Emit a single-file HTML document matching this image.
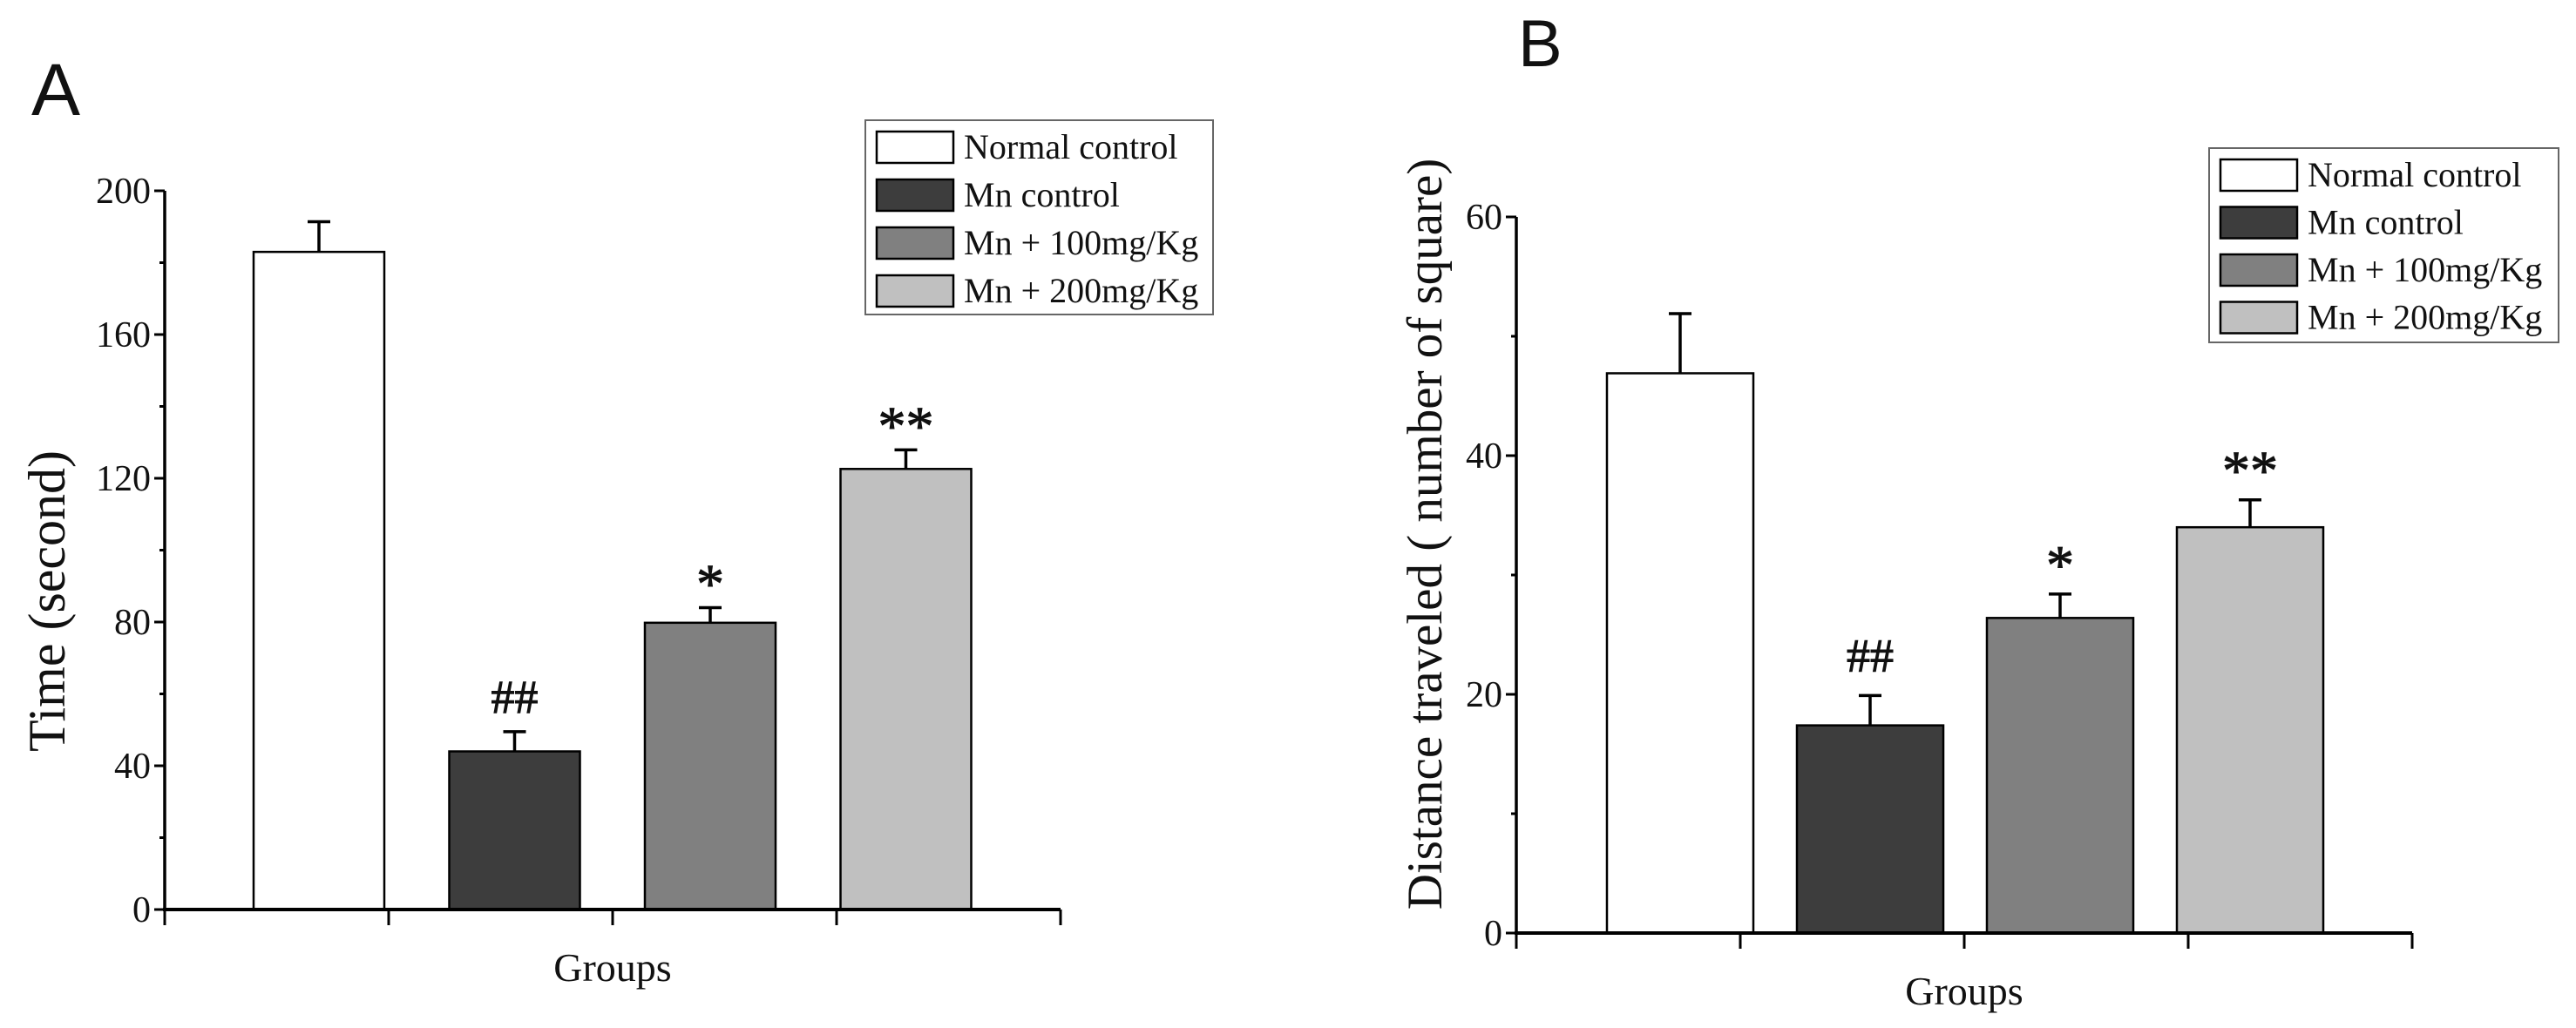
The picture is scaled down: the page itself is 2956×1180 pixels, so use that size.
<!DOCTYPE html>
<html><head><meta charset="utf-8"><style>
html,body{margin:0;padding:0;background:#fff;}
svg{display:block;}
text{font-family:"Liberation Serif",serif;fill:#111;}
</style></head><body>
<svg id="fig" width="2956" height="1180" viewBox="0 0 2956 1180" xmlns="http://www.w3.org/2000/svg">
<rect width="2956" height="1180" fill="#fff"/>
<text x="36" y="132" style="font-family:'Liberation Sans',sans-serif;font-size:84px">A</text>
<text x="1742" y="76" style="font-family:'Liberation Sans',sans-serif;font-size:76px">B</text>
<g id="pa"></g>
<g id="pb"></g>
</svg>
<script>
const groups = ["Normal control","Mn control","Mn + 100mg/Kg","Mn + 200mg/Kg"];
const colors = ["#ffffff","#3d3d3d","#808080","#c0c0c0"];
const timeValues = [183.0, 44.0, 79.8, 122.6];
const timeErrors = [8.4, 5.5, 4.2, 5.3];
const timeTicks = [0, 40, 80, 120, 160, 200];
const timeMarks = ["", "##", "*", "**"];
const distValues = [46.9, 17.4, 26.4, 34.0];
const distErrors = [5.0, 2.5, 2.0, 2.3];
const distTicks = [0, 20, 40, 60];
const distMarks = ["", "##", "*", "**"];

const NS = "http://www.w3.org/2000/svg";
function mk(parent, tag, attrs, txt){
  const e = document.createElementNS(NS, tag);
  for (const k in attrs) e.setAttribute(k, attrs[k]);
  if (txt !== undefined) e.textContent = txt;
  parent.appendChild(e);
  return e;
}

function drawPanel(g, cfg){
  const y = v => cfg.y0 - (v - cfg.ymin) / (cfg.ymax - cfg.ymin) * (cfg.y0 - cfg.yTop);
  const barX = i => cfg.firstBar + i * cfg.step;
  cfg.values.forEach((v, i) => {
    const x = barX(i);
    const r = mk(g, "rect", {x: x, y: y(v), width: cfg.bw, height: cfg.y0 - y(v), fill: colors[i], stroke: "#000", "stroke-width": 2.5});
    
    
    const cx = x + cfg.bw / 2;
    const et = y(v + cfg.errors[i]);
    const el = mk(g, "path", {d: `M${cx} ${y(v)} V${et} M${cx - 13} ${et} H${cx + 13}`, stroke: "#000", "stroke-width": 3.5, fill: "none"});
    
    
    if (cfg.marks[i]) {
      const isStar = cfg.marks[i].indexOf("*") >= 0;
      const t = mk(g, "text", {x: cx, y: et - cfg.markGap + (isStar ? 16 : 0), "text-anchor": "middle", "font-size": isStar ? 64 : 54, "stroke": "#111", "stroke-width": 1}, cfg.marks[i]);
      
      
    }
  });
  const ya = mk(g, "line", {x1: cfg.ax, y1: cfg.yTop, x2: cfg.ax, y2: cfg.y0 + 2, stroke: "#000", "stroke-width": 3.5});
  
  
  cfg.ticks.forEach((t, i) => {
    mk(g, "line", {x1: cfg.ax - 12, y1: y(t), x2: cfg.ax, y2: y(t), stroke: "#000", "stroke-width": 3});
    const lb = mk(g, "text", {x: cfg.ax - 16, y: y(t) + 14, "text-anchor": "end", "font-size": 42}, String(t));
    
    
    if (i < cfg.ticks.length - 1) {
      const m = (t + cfg.ticks[i + 1]) / 2;
      mk(g, "line", {x1: cfg.ax - 6, y1: y(m), x2: cfg.ax, y2: y(m), stroke: "#000", "stroke-width": 3});
    }
  });
  const xa = mk(g, "line", {x1: cfg.ax - 2, y1: cfg.y0, x2: cfg.axEnd, y2: cfg.y0, stroke: "#000", "stroke-width": 4});
  
  
  for (let k = 0; k < 5; k++) {
    const tx = cfg.ax + k * (cfg.axEnd - cfg.ax) / 4;
    mk(g, "line", {x1: tx, y1: cfg.y0, x2: tx, y2: cfg.y0 + 18, stroke: "#000", "stroke-width": 3});
  }
  const xt = mk(g, "text", {x: (cfg.ax + cfg.axEnd) / 2, y: cfg.y0 + 82, "text-anchor": "middle", "font-size": 46}, "Groups");
  
  
  const yt = mk(g, "text", {x: 0, y: 0, "text-anchor": "middle", "font-size": cfg.ytSize, transform: `translate(${cfg.ytX},${cfg.ytY}) rotate(-90)`}, cfg.ytitle);
  
  
  const lg = mk(g, "g", {});
  
  
  mk(lg, "rect", {x: cfg.lx, y: cfg.ly, width: cfg.lw, height: cfg.lh, fill: "#fff", stroke: "#666", "stroke-width": 2});
  groups.forEach((name, i) => {
    const cy = cfg.ly + 30 + i * cfg.lrow;
    const e = mk(lg, "g", {});
    
    
    mk(e, "rect", {x: cfg.lx + 13, y: cy - 17, width: 88, height: 36, fill: colors[i], stroke: "#000", "stroke-width": 2.5});
    mk(e, "text", {x: cfg.lx + 113, y: cy + 14, "font-size": 40}, name);
  });
}

drawPanel(document.getElementById("pa"), {
  values: timeValues, errors: timeErrors, ticks: timeTicks, marks: timeMarks,
  ymin: 0, ymax: 200, y0: 1044, yTop: 219, ax: 189, axEnd: 1217,
  firstBar: 291, step: 224.5, bw: 150, markGap: 22,
  ytitle: "Time (second)", ytX: 74, ytY: 690, ytSize: 60,
  lx: 993, ly: 138, lw: 399, lh: 223, lrow: 55
});
drawPanel(document.getElementById("pb"), {
  values: distValues, errors: distErrors, ticks: distTicks, marks: distMarks,
  ymin: 0, ymax: 60, y0: 1071, yTop: 249, ax: 1740, axEnd: 2768,
  firstBar: 1844, step: 218, bw: 168, markGap: 28,
  ytitle: "Distance traveled ( number of square)", ytX: 1654, ytY: 613, ytSize: 57,
  lx: 2535, ly: 170, lw: 401, lh: 223, lrow: 54.5
});
</script>
</body></html>
